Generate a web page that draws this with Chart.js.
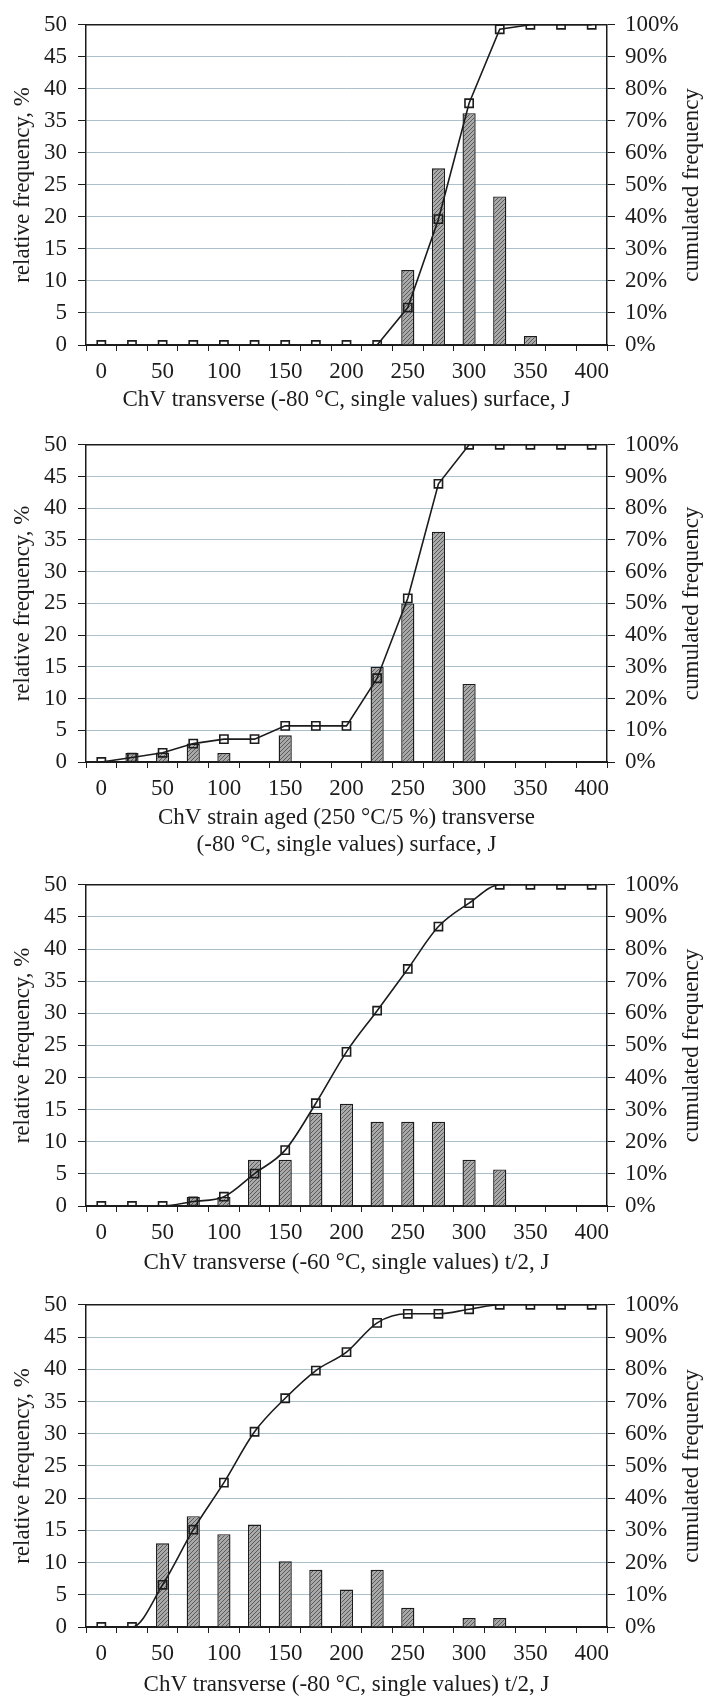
<!DOCTYPE html>
<html>
<head>
<meta charset="utf-8">
<script src="https://cdn.jsdelivr.net/npm/chart.js@4/dist/chart.umd.min.js"></script>
<style>
  html, body { margin: 0; padding: 0; background: #fff; }
  body { width: 717px; height: 1701px; position: relative; overflow: hidden; }
  .panel { position: absolute; left: 0; width: 717px; }
</style>
</head>
<body>
<div class="panel" style="top:0"><canvas id="c1" width="717" height="420"></canvas></div>
<div class="panel" style="top:420px"><canvas id="c2" width="717" height="440"></canvas></div>
<div class="panel" style="top:860px"><canvas id="c3" width="717" height="420"></canvas></div>
<div class="panel" style="top:1280px"><canvas id="c4" width="717" height="421"></canvas></div>
<script>
"use strict";

// impact energy classes, J
var energyBins = ["0", "25", "50", "75", "100", "125", "150", "175", "200",
    "225", "250", "275", "300", "325", "350", "375", "400"];
var xTickLabels = ["0", "", "50", "", "100", "", "150", "", "200",
    "", "250", "", "300", "", "350", "", "400"];

// relative frequency, % (left axis) / cumulated frequency, % (right axis)
var relFreq1 = [null, null, null, null, null, null, null, null, null, null, 11.7, 27.6, 36.2, 23.2, 1.4, null, null];
var cumFreq1 = [0, 0, 0, 0, 0, 0, 0, 0, 0, 0, 11.7, 39.3, 75.5, 98.6, 100, 100, 100];

var relFreq2 = [null, 1.4, 1.5, 2.9, 1.4, null, 4.2, null, null, 15.0, 25.0, 36.3, 12.3, null, null, null, null];
var cumFreq2 = [0, 1.4, 2.9, 5.8, 7.2, 7.2, 11.4, 11.4, 11.4, 26.4, 51.6, 87.7, 100, 100, 100, 100, 100];

var relFreq3 = [null, null, null, 1.4, 1.4, 7.2, 7.2, 14.5, 15.9, 13.1, 13.1, 13.1, 7.2, 5.7, null, null, null];
var cumFreq3 = [0, 0, 0, 1.4, 2.9, 10.1, 17.4, 32.0, 48.0, 60.8, 73.8, 87.0, 94.3, 100, 100, 100, 100];

var relFreq4 = [null, null, 13.0, 17.2, 14.4, 15.9, 10.2, 8.9, 5.8, 8.9, 3.0, null, 1.4, 1.4, null, null, null];
var cumFreq4 = [0, 0, 13.1, 30.2, 44.8, 60.6, 71.0, 79.6, 85.3, 94.4, 97.2, 97.2, 98.6, 100, 100, 100, 100];

var xTitle1 = "ChV transverse (-80 °C, single values) surface, J";
var xTitle2 = ["ChV strain aged (250 °C/5 %) transverse", "(-80 °C, single values) surface, J"];
var xTitle3 = "ChV transverse (-60 °C, single values) t/2, J";
var xTitle4 = "ChV transverse (-80 °C, single values) t/2, J";
var leftTitle = "relative frequency, %";
var rightTitle = "cumulated frequency";

(function () {
    var FONT = "'Liberation Serif', 'Times New Roman', serif";
    var INK = "#1c1c1c";
    var GRID = "#aac0cb";

    function hatch() {
        var c = document.createElement("canvas");
        c.width = 4;
        c.height = 4;
        var g = c.getContext("2d");
        g.fillStyle = "#a9a9a9";
        g.fillRect(0, 0, 4, 4);
        g.strokeStyle = "#5a5a5a";
        g.lineWidth = 1;
        g.beginPath();
        g.moveTo(0, 4); g.lineTo(4, 0);
        g.moveTo(-1, 1); g.lineTo(1, -1);
        g.moveTo(3, 5); g.lineTo(5, 3);
        g.stroke();
        return g.createPattern(c, "repeat");
    }

    // frame round the plot + right axis title read bottom-to-top
    var framePlugin = {
        id: "frame",
        beforeDatasetsDraw: function (chart) {
            var a = chart.chartArea, ctx = chart.ctx;
            ctx.save();
            ctx.strokeStyle = INK;
            ctx.lineWidth = 1.5;
            ctx.beginPath();
            ctx.moveTo(a.left, a.top);
            ctx.lineTo(a.right, a.top);
            ctx.stroke();
            ctx.restore();
        },
        afterDraw: function (chart) {
            var a = chart.chartArea, ctx = chart.ctx;
            ctx.save();
            ctx.translate(692, (a.top + a.bottom) / 2);
            ctx.rotate(-Math.PI / 2);
            ctx.font = "23px " + FONT;
            ctx.fillStyle = INK;
            ctx.textAlign = "center";
            ctx.textBaseline = "middle";
            ctx.fillText(rightTitle, 0, 0);
            ctx.restore();
        }
    };

    function makeChart(id, rel, cum, xTitle, padTop, axisH, titlePad, smooth) {
        var ctx = document.getElementById(id).getContext("2d");
        return new Chart(ctx, {
            type: "bar",
            data: {
                labels: energyBins,
                datasets: [{
                    type: "line",
                    label: "cumulated frequency",
                    data: cum,
                    yAxisID: "y2",
                    order: 0,
                    borderColor: INK,
                    borderWidth: 1.6,
                    tension: smooth ? 0.3 : 0,
                    cubicInterpolationMode: smooth ? "monotone" : "default",
                    pointStyle: "rect",
                    pointRadius: 5.8,
                    pointBorderWidth: 1.6,
                    pointBorderColor: INK,
                    pointBackgroundColor: "rgba(0,0,0,0)"
                }, {
                    label: "relative frequency",
                    data: rel,
                    yAxisID: "y",
                    order: 1,
                    backgroundColor: hatch(),
                    borderColor: INK,
                    borderWidth: 1.4,
                    categoryPercentage: 1,
                    barPercentage: 0.43
                }]
            },
            options: {
                responsive: false,
                animation: false,
                layout: { padding: { top: padTop, left: 0, right: 0, bottom: 0 } },
                plugins: { legend: { display: false }, tooltip: { enabled: false } },
                scales: {
                    x: {
                        afterFit: function (s) { s.height = axisH; },
                        grid: { offset: true, drawOnChartArea: false, tickLength: 6, tickColor: INK },
                        border: { color: INK, width: 2 },
                        ticks: {
                            autoSkip: false, maxRotation: 0, padding: 7, color: INK,
                            font: { family: FONT, size: 23 },
                            callback: function (v, i) { return xTickLabels[i]; }
                        },
                        title: {
                            display: true, text: xTitle, color: INK,
                            font: { family: FONT, size: 23, lineHeight: 1.15 },
                            padding: { top: 0, bottom: titlePad }
                        }
                    },
                    y: {
                        position: "left",
                        min: 0, max: 50,
                        afterFit: function (s) { s.width = 86; },
                        grid: { color: GRID, lineWidth: 1, tickLength: 8, tickColor: INK },
                        border: { color: INK, width: 1.5 },
                        ticks: { stepSize: 5, padding: 11, color: INK, font: { family: FONT, size: 23 } },
                        title: {
                            display: true, text: leftTitle, color: INK,
                            font: { family: FONT, size: 23, lineHeight: 1.2 },
                            padding: { top: 9, bottom: 0 }
                        }
                    },
                    y2: {
                        position: "right",
                        min: 0, max: 100,
                        afterFit: function (s) { s.width = 110; },
                        grid: { drawOnChartArea: false, tickLength: 8, tickColor: INK },
                        border: { color: INK, width: 1.5 },
                        ticks: {
                            stepSize: 10, padding: 10, color: INK, font: { family: FONT, size: 23 },
                            callback: function (v) { return v + "%"; }
                        }
                    }
                }
            },
            plugins: [framePlugin]
        });
    }

    makeChart("c1", relFreq1, cumFreq1, xTitle1, 17, 75, 6.8, false);
    makeChart("c2", relFreq2, cumFreq2, xTitle2, 17, 98, 2.3, false);
    makeChart("c3", relFreq3, cumFreq3, xTitle3, 18, 74, 3.8, true);
    makeChart("c4", relFreq4, cumFreq4, xTitle4, 20, 74, 2.8, true);
})();
</script>
</body>
</html>
